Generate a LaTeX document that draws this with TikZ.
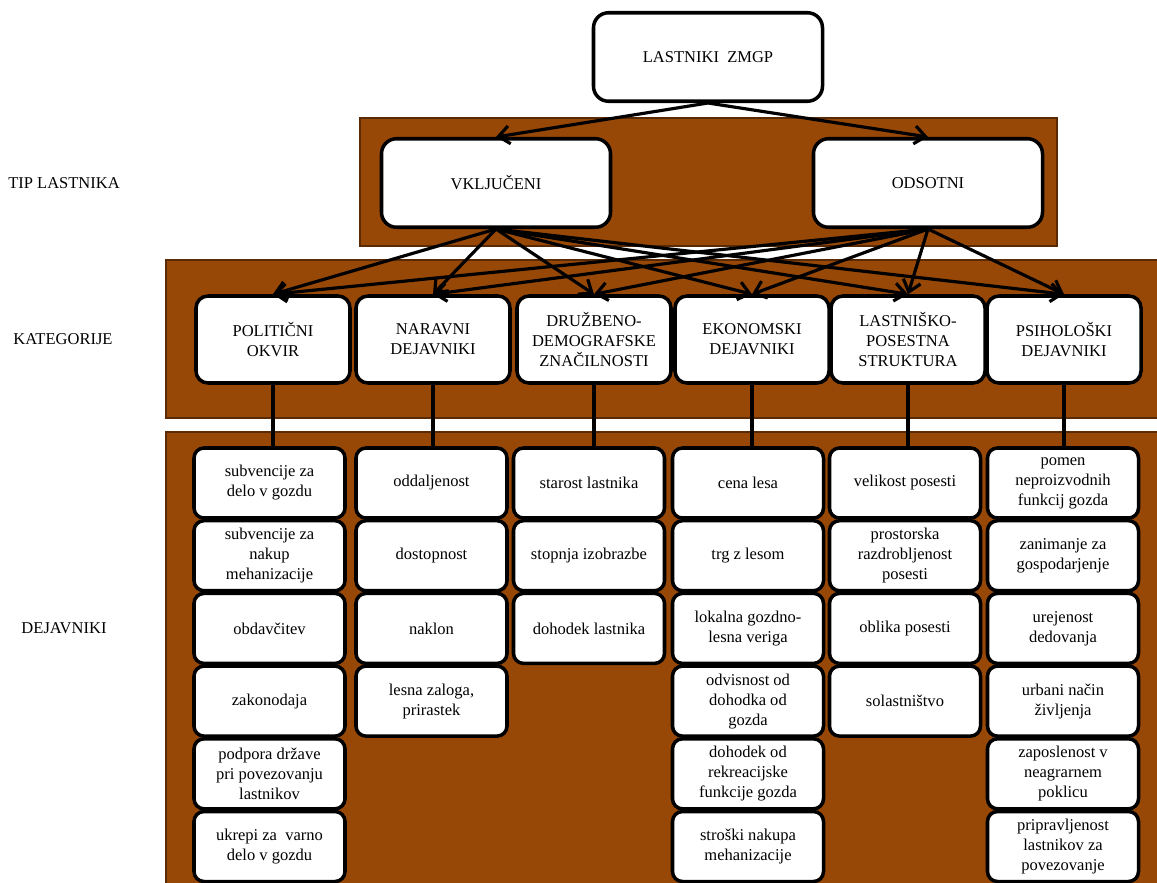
\documentclass[tikz,border=0pt]{standalone}
\usepackage{fontspec}
\setmainfont{Liberation Serif}
\usetikzlibrary{positioning,arrows.meta}
\definecolor{bandfill}{HTML}{974806}
\definecolor{bandline}{HTML}{5A2A04}
\tikzset{
  band/.style={fill=bandfill, draw=bandline, line width=1.4pt},
  box/.style={draw, fill=white, line width=2pt, rounded corners=0.3cm, align=center,
    inner sep=1pt, font=\fontsize{9.4}{11.4}\selectfont},
  big/.style={box, minimum width=4.58cm, minimum height=1.77cm},
  cat/.style={box, rounded corners=0.24cm, minimum width=3.08cm, minimum height=1.74cm},
  fac/.style={box, rounded corners=0.2cm, minimum width=3.02cm, minimum height=1.4cm},
  lbl/.style={font=\fontsize{9.4}{11.4}\selectfont},
  arr/.style={-{Straight Barb[length=2.2mm,width=3.6mm]}, line width=1.8pt},
  link/.style={line width=1.8pt}
}
\begin{document}
\begin{tikzpicture}[x=0.2mm, y=-0.2mm, node distance=1.454cm]
              \useasboundingbox (0,0) rectangle (1157,883);

              \draw[band] (360,118) rectangle (1057,246);
              \draw[band] (166,260) rectangle (1165,418);
              \draw[band] (166,432) rectangle (1165,890);

              \node[lbl] (tip) at (64,183) {TIP LASTNIKA};
              \node[lbl] (kat) at (63,339) {KATEGORIJE};
              \node[lbl] (dej) at (64,628) {DEJAVNIKI};

              \node[big] (own) at (708,57) {LASTNIKI\ \ ZMGP};
              \node[big] (vk) at (496,183) {VKLJUČENI};
              \node[big] (od) at (928,183) {ODSOTNI};

              \node[cat] (c1) at (273,339.5) {POLITIČNI\\OKVIR};
              \node[cat] (c2) at (433,339.5) {NARAVNI\\DEJAVNIKI};
              \node[cat] (c3) at (594,339.5) {DRUŽBENO-\\DEMOGRAFSKE\\ZNAČILNOSTI};
              \node[cat] (c4) at (752,339.5) {EKONOMSKI\\DEJAVNIKI};
              \node[cat] (c5) at (908,339.5) {LASTNIŠKO-\\POSESTNA\\STRUKTURA};
              \node[cat] (c6) at (1064,339.5) {PSIHOLOŠKI\\DEJAVNIKI};

              \node[fac] (f11) at (269.5,483) {subvencije za\\delo v gozdu};
              \node[fac] (f12) [below of=f11] {subvencije za\\nakup\\mehanizacije};
              \node[fac] (f13) [below of=f12] {obdavčitev};
              \node[fac] (f14) [below of=f13] {zakonodaja};
              \node[fac] (f15) [below of=f14] {podpora države\\pri povezovanju\\lastnikov};
              \node[fac] (f16) [below of=f15] {ukrepi za\ \ varno\\delo v gozdu};

              \node[fac] (f21) at (431.5,483) {oddaljenost};
              \node[fac] (f22) [below of=f21] {dostopnost};
              \node[fac] (f23) [below of=f22] {naklon};
              \node[fac] (f24) [below of=f23] {lesna zaloga,\\prirastek};

              \node[fac] (f31) at (589,483) {starost lastnika};
              \node[fac] (f32) [below of=f31] {stopnja izobrazbe};
              \node[fac] (f33) [below of=f32] {dohodek lastnika};

              \node[fac] (f41) at (748,483) {cena lesa};
              \node[fac] (f42) [below of=f41] {trg z lesom};
              \node[fac] (f43) [below of=f42] {lokalna gozdno-\\lesna veriga};
              \node[fac] (f44) [below of=f43] {odvisnost od\\dohodka od\\gozda};
              \node[fac] (f45) [below of=f44] {dohodek od\\rekreacijske\\funkcije gozda};
              \node[fac] (f46) [below of=f45] {stroški nakupa\\mehanizacije};

              \node[fac] (f51) at (905,483) {velikost posesti};
              \node[fac] (f52) [below of=f51] {prostorska\\razdrobljenost\\posesti};
              \node[fac] (f53) [below of=f52] {oblika posesti};
              \node[fac] (f54) [below of=f53] {solastništvo};

              \node[fac] (f61) at (1063,483) {pomen\\neproizvodnih\\funkcij gozda};
              \node[fac] (f62) [below of=f61] {zanimanje za\\gospodarjenje};
              \node[fac] (f63) [below of=f62] {urejenost\\dedovanja};
              \node[fac] (f64) [below of=f63] {urbani način\\življenja};
              \node[fac] (f65) [below of=f64] {zaposlenost v\\neagrarnem\\poklicu};
              \node[fac] (f66) [below of=f65] {pripravljenost\\lastnikov za\\povezovanje};

              \begin{scope}[arr]
                  \draw (own.south) -- (vk.north);
                  \draw (own.south) -- (od.north);
                  \draw (vk.south) -- (c1.north);
                  \draw (vk.south) -- (c2.north);
                  \draw (vk.south) -- (c3.north);
                  \draw (vk.south) -- (c4.north);
                  \draw (vk.south) -- (c5.north);
                  \draw (vk.south) -- (c6.north);
                  \draw (od.south) -- (c1.north);
                  \draw (od.south) -- (c2.north);
                  \draw (od.south) -- (c3.north);
                  \draw (od.south) -- (c4.north);
                  \draw (od.south) -- (c5.north);
                  \draw (od.south) -- (c6.north);
              \end{scope}

              \begin{scope}[link]
                  \draw (c1.south) -- (c1.south |- f11.north);
                  \draw (c2.south) -- (c2.south |- f21.north);
                  \draw (c3.south) -- (c3.south |- f31.north);
                  \draw (c4.south) -- (c4.south |- f41.north);
                  \draw (c5.south) -- (c5.south |- f51.north);
                  \draw (c6.south) -- (c6.south |- f61.north);
              \end{scope}

          \end{tikzpicture}
\end{document}
